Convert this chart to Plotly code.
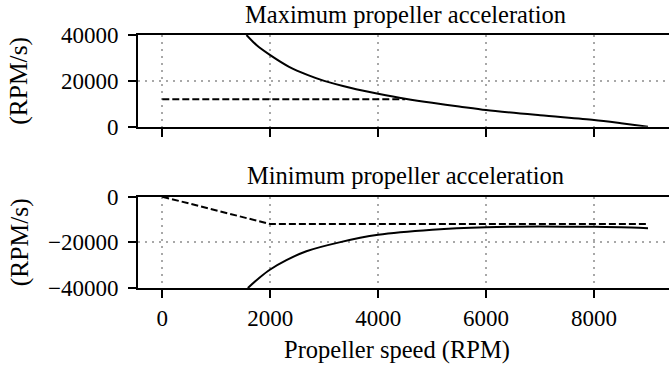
import plotly.graph_objects as go

# ---- data ----
x_ticks = [0, 2000, 4000, 6000, 8000]
x_tick_labels = ["0", "2000", "4000", "6000", "8000"]
y_top_ticks = [0, 20000, 40000]
y_top_labels = ["0", "20000", "40000"]
y_bot_ticks = [-40000, -20000, 0]
y_bot_labels = ["\u221240000", "\u221220000", "0"]

max_solid_x = [1560, 1750, 2000, 2350, 2700, 3000, 3500, 4000, 4500, 5000, 5500, 6000, 7000, 8000, 8500, 9000]
max_solid_y = [40000, 35500, 31200, 26100, 22500, 20000, 16900, 14400, 12200, 10400, 8850, 7300, 5000, 2900, 1500, 0]
max_dash_x = [0, 4500]
max_dash_y = [12000, 12000]

min_solid_x = [1585, 1800, 2000, 2300, 2670, 3280, 4000, 5000, 6000, 7000, 8000, 8500, 9000]
min_solid_y = [-40000, -35500, -31900, -27800, -23900, -20000, -16700, -14500, -13400, -13100, -13200, -13400, -13800]
min_dash_x = [0, 2000, 9000]
min_dash_y = [0, -12000, -12000]

title_top = "Maximum propeller acceleration"
title_bot = "Minimum propeller acceleration"
x_title = "Propeller speed (RPM)"
y_title = "(RPM/s)"

# ---- figure ----
W, H = 669, 370
ML, MR, MT, MB = 138, 0, 35, 82
PW, PH = W - ML - MR, H - MT - MB
FONT = "Liberation Serif"
FS = 23
FS_TITLE = 24.5
FS_YT = 25.5

def px_to_paper_x(px):
    return (px - ML) / PW

def px_to_paper_y(py):
    return (H - MB - py) / PH

fig = go.Figure()
line_solid = dict(color="black", width=2)
line_dash = dict(color="black", width=2, dash="7px,3px")

fig.add_trace(go.Scatter(x=max_dash_x, y=max_dash_y, mode="lines", line=line_dash,
                         xaxis="x2", yaxis="y2", showlegend=False))
fig.add_trace(go.Scatter(x=max_solid_x, y=max_solid_y, mode="lines", line=dict(line_solid, shape="spline", smoothing=0.8),
                         xaxis="x2", yaxis="y2", showlegend=False))
fig.add_trace(go.Scatter(x=min_dash_x, y=min_dash_y, mode="lines", line=line_dash,
                         xaxis="x", yaxis="y", showlegend=False))
fig.add_trace(go.Scatter(x=min_solid_x, y=min_solid_y, mode="lines", line=dict(line_solid, shape="spline", smoothing=0.8),
                         xaxis="x", yaxis="y", showlegend=False))

grid = dict(showgrid=True, gridcolor="#a8a8a8", gridwidth=2, griddash="2px,5px", zeroline=False)
axline = dict(showline=True, linecolor="black", linewidth=1.8,
              ticks="outside", ticklen=8, tickwidth=1.8, tickcolor="black",
              tickfont=dict(family=FONT, size=FS, color="black"))

xr = [-450, 9389]
fig.update_layout(
    width=W, height=H,
    margin=dict(l=ML, r=MR, t=MT, b=MB, pad=0),
    paper_bgcolor="white", plot_bgcolor="white",
    font=dict(family=FONT, size=FS, color="black"),
    xaxis=dict(domain=[0, 1], range=xr, anchor="y", tickmode="array", tickvals=x_ticks,
               ticktext=x_tick_labels, mirror=True, **grid, **axline),
    yaxis=dict(domain=[0, px_to_paper_y(196.7)], range=[-40000, 0], anchor="x",
               tickmode="array", tickvals=y_bot_ticks, ticktext=y_bot_labels,
               ticklabelstandoff=5, **grid, **axline),
    xaxis2=dict(domain=[0, 1], range=xr, anchor="y2", tickmode="array", tickvals=x_ticks,
                showticklabels=False, mirror=True, **grid, **axline),
    yaxis2=dict(domain=[px_to_paper_y(126.7), 1], range=[0, 40000], anchor="x2",
                tickmode="array", tickvals=y_top_ticks, ticktext=y_top_labels,
                ticklabelstandoff=5, **grid, **axline),
)

ann_font = dict(family=FONT, size=FS_TITLE, color="black")
yt_font = dict(family=FONT, size=FS_YT, color="black")
fig.add_annotation(text=title_top, xref="paper", yref="paper", x=px_to_paper_x(405),
                   y=px_to_paper_y(14), xanchor="center", yanchor="middle", showarrow=False, font=ann_font)
fig.add_annotation(text=title_bot, xref="paper", yref="paper", x=px_to_paper_x(405),
                   y=px_to_paper_y(175.5), xanchor="center", yanchor="middle", showarrow=False, font=ann_font)
fig.add_annotation(text=x_title, xref="paper", yref="paper", x=px_to_paper_x(397),
                   y=px_to_paper_y(350), xanchor="center", yanchor="middle", showarrow=False, font=ann_font)
fig.add_annotation(text=y_title, xref="paper", yref="paper", x=px_to_paper_x(19),
                   y=px_to_paper_y(80.8), xanchor="center", yanchor="middle", textangle=-90,
                   showarrow=False, font=yt_font)
fig.add_annotation(text=y_title, xref="paper", yref="paper", x=px_to_paper_x(19),
                   y=px_to_paper_y(242.2), xanchor="center", yanchor="middle", textangle=-90,
                   showarrow=False, font=yt_font)

fig.write_html("out.html")
